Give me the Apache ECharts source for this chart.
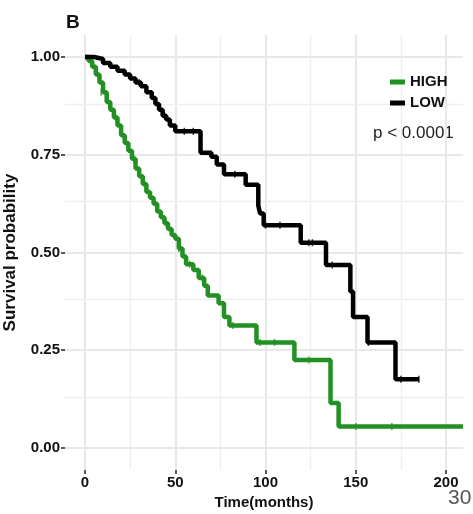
<!DOCTYPE html>
<html><head><meta charset="utf-8">
<script src="https://cdn.jsdelivr.net/npm/echarts@6/dist/echarts.min.js"></script>
<style>html,body{margin:0;padding:0;background:#fff}#c{width:473px;height:514px}</style>
</head><body><div id="c"></div>
<script>
// Kaplan-Meier step data (time in months, survival after event)
const highTime = [0,2,4,6,8,10,12,14,16,18,20,22,24,26,28,30,32,34,36,38,40,42,44,46,48,50,52,54,56,60,63,66,68,74,77,80,95,116,136,140.5,209.4];
const highSurv = [1.0,0.99,0.975,0.955,0.935,0.91,0.885,0.865,0.845,0.825,0.80,0.78,0.76,0.74,0.715,0.695,0.675,0.655,0.64,0.625,0.605,0.59,0.575,0.56,0.545,0.535,0.51,0.49,0.47,0.455,0.435,0.415,0.39,0.37,0.335,0.313,0.27,0.225,0.115,0.055,0.055];
const lowTime = [0,5,10,14,18,22,25,28,31,34,37,39,41,43,45,47,50,64,70,73,77,89,96,97,99,119.5,133.5,147,148.5,156.5,172,185];
const lowSurv = [1.0,0.995,0.985,0.975,0.965,0.955,0.945,0.935,0.925,0.91,0.895,0.88,0.865,0.85,0.84,0.825,0.81,0.755,0.745,0.725,0.70,0.673,0.62,0.60,0.57,0.525,0.468,0.40,0.335,0.27,0.176,0.176];
// censor marks
const highCensT = [9,17,27,33,45,52,58,65,82,97,105,124,150,170];
const highCensS = [0.91,0.845,0.74,0.675,0.575,0.51,0.47,0.435,0.313,0.27,0.27,0.225,0.055,0.055];
const lowCensT = [30,44,55,60,83,100,108,124,126,137,157,175,185];
const lowCensS = [0.935,0.85,0.81,0.81,0.70,0.57,0.57,0.525,0.525,0.468,0.27,0.176,0.176];
const xTicks = [0,50,100,150,200];
const xMinor = [25,75,125,175];
const yTicks = [0,0.25,0.5,0.75,1];
const yMinor = [0.125,0.375,0.625,0.875];
const seriesNames = ['HIGH','LOW'];
const colors = ['#229022','#000000'];

const zip = (a,b) => a.map((v,i)=>[v,b[i]]);
const FONT = 'Liberation Sans, Arial, sans-serif';
const chart = echarts.init(document.getElementById('c'), null, {renderer:'canvas'});
const gridLines = [].concat(
  xTicks.map(v=>({xAxis:v, lineStyle:{width:2.2,color:'#e8e8e8',type:'solid'}})),
  xMinor.map(v=>({xAxis:v, lineStyle:{width:1.4,color:'#efefef',type:'solid'}})),
  yTicks.map(v=>({yAxis:v, lineStyle:{width:2.2,color:'#e8e8e8',type:'solid'}})),
  yMinor.map(v=>({yAxis:v, lineStyle:{width:1.4,color:'#efefef',type:'solid'}}))
);
chart.setOption({
  animation:false,
  backgroundColor:'#ffffff',
  grid:{left:65,right:10,top:35,bottom:44,containLabel:false,outerBoundsMode:'none'},
  xAxis:{type:'value',min:-11.08,max:209.4,
    axisLine:{show:true,onZero:false,lineStyle:{color:'rgba(0,0,0,0)'}},splitLine:{show:false},
    axisTick:{show:true,inside:false,length:4,lineStyle:{color:'#222',width:1.5},customValues:xTicks},
    axisLabel:{margin:5,fontSize:15,fontWeight:'bold',color:'#111',fontFamily:FONT,customValues:xTicks},
    name:'Time(months)',nameLocation:'middle',nameGap:22,
    nameTextStyle:{fontSize:15,fontWeight:'bold',color:'#111',fontFamily:FONT}},
  yAxis:{type:'value',min:-0.0563,max:1.0563,
    axisLine:{show:true,onZero:false,lineStyle:{color:'rgba(0,0,0,0)'}},splitLine:{show:false},
    axisTick:{show:true,inside:false,length:4,lineStyle:{color:'#222',width:1.5},customValues:yTicks},
    axisLabel:{margin:5,fontSize:15,fontWeight:'bold',color:'#111',fontFamily:FONT,customValues:yTicks,formatter:v=>v.toFixed(2)},
    name:'Survival probability',nameLocation:'middle',nameGap:46,nameRotate:90,
    nameTextStyle:{fontSize:17,fontWeight:'bold',color:'#111',fontFamily:FONT}},
  legend:{data:seriesNames,orient:'vertical',left:390,top:74,icon:'rect',itemWidth:15,itemHeight:5,itemGap:5,
    textStyle:{fontSize:15,fontWeight:'bold',color:'#111',fontFamily:FONT,lineHeight:16},padding:0},
  graphic:[
    {type:'text',left:66,top:13,style:{text:'B',font:'bold 19px '+FONT,fill:'#111'}},
    {type:'text',left:373,top:125,style:{text:'p < 0.0001',font:'17px '+FONT,fill:'#222'}},
    {type:'text',left:448,top:488,style:{text:'30',font:'21px '+FONT,fill:'#555'}}
  ],
  series:[
    {type:'line',name:'grid',data:[],z:1,silent:true,
      markLine:{silent:true,symbol:'none',z:1,label:{show:false},data:gridLines}},
    {type:'line',name:'HIGH',step:'end',data:zip(highTime,highSurv),showSymbol:false,symbol:'none',z:3,
      lineStyle:{width:4.5,color:colors[0]},itemStyle:{color:colors[0]}},
    {type:'line',name:'LOW',step:'end',data:zip(lowTime,lowSurv),showSymbol:false,symbol:'none',z:4,
      lineStyle:{width:4.5,color:colors[1]},itemStyle:{color:colors[1]}},
    {type:'scatter',name:'highCens',data:zip(highCensT,highCensS),symbol:'rect',symbolSize:[1.5,7],z:3,
      itemStyle:{color:colors[0]},silent:true},
    {type:'scatter',name:'lowCens',data:zip(lowCensT,lowCensS),symbol:'rect',symbolSize:[1.5,7],z:4,
      itemStyle:{color:colors[1]},silent:true}
  ]
});
</script></body></html>
